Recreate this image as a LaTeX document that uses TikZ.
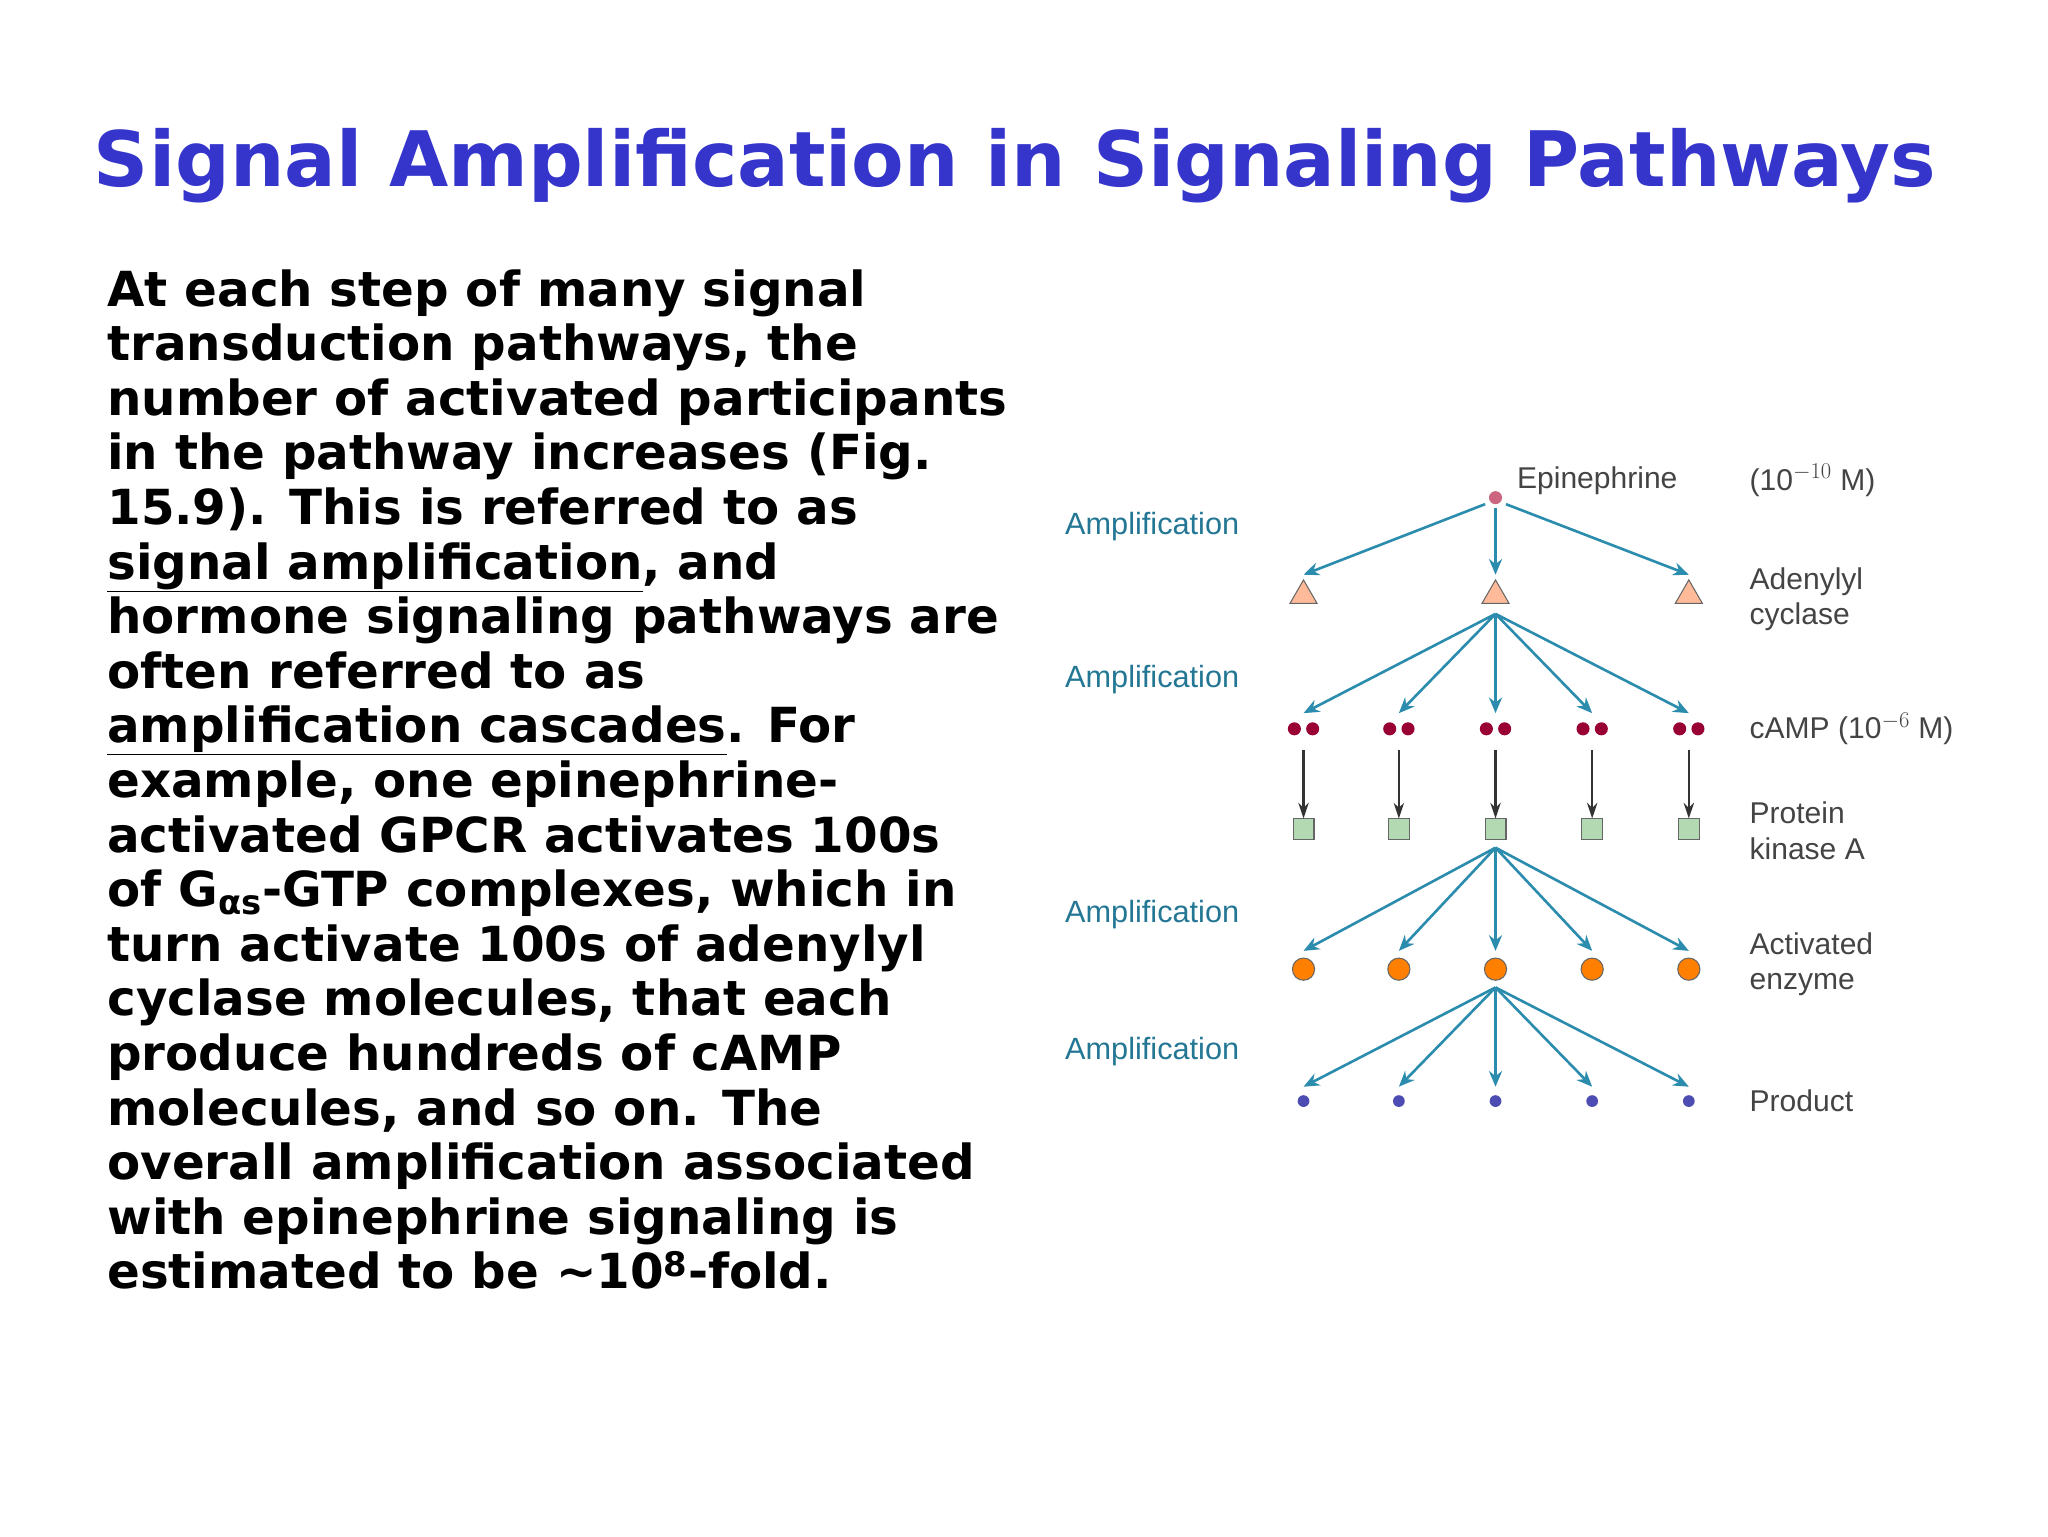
\documentclass[tikz,border=0pt]{standalone}
\usepackage{fontspec}
\setmainfont{DejaVu Sans}
\newfontfamily\diag{Liberation Sans}
\usetikzlibrary{arrows.meta,shapes.geometric,calc}
\definecolor{ttl}{HTML}{3535CC}
\definecolor{teal}{HTML}{2B8CAE}
\definecolor{lbl}{HTML}{444444}
\tikzset{
 amp/.style={anchor=west,text=teal!85!black,font=\diag\fontsize{23.5}{24}\selectfont},
 rl/.style={anchor=west,text=lbl,font=\diag\fontsize{23}{27}\selectfont,align=left},
 ta/.style={teal,line width=2pt,-{Stealth[length=12pt,width=10pt]}},
 ka/.style={black!80,line width=1.6pt,-{Stealth[length=12pt,width=8pt]}},
 tri/.style={regular polygon,regular polygon sides=3,draw=black!60,fill=red!35!orange!40,minimum size=24pt,inner sep=0pt,line width=0.8pt},
 sq/.style={rectangle,draw=black!60,fill=green!50!black!30,minimum size=16pt,inner sep=0pt,line width=0.8pt},
 oc/.style={circle,draw=black!60,fill=orange,minimum size=17pt,inner sep=0pt,line width=0.8pt},
 pd/.style={circle,fill=blue!40!gray,minimum size=9pt,inner sep=0pt},
 cd/.style={circle,fill=purple!80!black,minimum size=10pt,inner sep=0pt},
}
\begin{document}
\begin{tikzpicture}[x=1pt,y=-1pt]
\useasboundingbox[fill=white] (0,0) rectangle (1568,1176);
\node[text=ttl,anchor=center] (title) at (777,127) {\resizebox{1410pt}{!}{\bfseries Signal Amplification in Signaling Pathways}};
\node[anchor=north west,align=left,inner sep=0pt,font=\bfseries\fontsize{37}{41.8}\selectfont] (body) at (82,206) {%
At each step of many signal\\
transduction pathways, the\\
number of activated participants\\
in the pathway increases (Fig.\\
15.9). This is referred to as\\
\underline{signal amplification}, and\\
hormone signaling pathways are\\
often referred to as\\
\underline{amplification cascades}. For\\
example, one epinephrine-\\
activated GPCR activates 100s\\
of G\textsubscript{αs}-GTP complexes, which in\\
turn activate 100s of adenylyl\\
cyclase molecules, that each\\
produce hundreds of cAMP\\
molecules, and so on. The\\
overall amplification associated\\
with epinephrine signaling is\\
estimated to be \textasciitilde10\textsuperscript{8}-fold.};
% diagram
\node[circle,fill=purple!50!pink!80!gray,minimum size=10pt,inner sep=0pt] (e) at (1145,381) {};
\foreach \i/\x in {1/998,2/1145,3/1293} {
 \node[tri] (t\i) at (\x,456) {};
 \coordinate (ta\i) at (\x,440);
}
\coordinate (ts) at (1145,470);
\coordinate (ss) at (1145,649);
\coordinate (os) at (1145,756);
\foreach \i/\x in {1/998,2/1071,3/1145,4/1219,5/1293}{
 \node[cd] at (\x-7,558) {}; \node[cd] at (\x+7,558) {};
 \coordinate (c\i) at (\x,546);
 \coordinate (cb\i) at (\x,574);
 \node[sq] (s\i) at (\x,635) {};
 \node[oc] (o\i) at (\x,742) {};
 \coordinate (oa\i) at (\x,728);
 \node[pd] (p\i) at (\x,843) {};
 \coordinate (pa\i) at (\x,832);
 \draw[ka] (cb\i) -- (s\i.north);
 \draw[ta] (ts) -- (c\i);
 \draw[ta] (ss) -- (oa\i);
 \draw[ta] (os) -- (pa\i);
}
\draw[ta] ($(e)+(-8,5)$) -- (ta1);
\draw[ta] ($(e)+(0,8)$) -- (ta2);
\draw[ta] ($(e)+(8,5)$) -- (ta3);
\foreach \y in {403,520,700,805} \node[amp] at (812,\y) {Amplification};
\node[rl] (le) at (1158,368) {Epinephrine};
\node[rl] (lc) at (1336,368) {(10$^{-10}$ M)};
\node[rl] (la) at (1336,459) {Adenylyl\\cyclase};
\node[rl] (lm) at (1336,558) {cAMP (10$^{-6}$ M)};
\node[rl] (lp) at (1336,636) {Protein\\kinase A};
\node[rl] (lx) at (1336,738) {Activated\\enzyme};
\node[rl] (lq) at (1336,843) {Product};
\end{tikzpicture}
\end{document}
